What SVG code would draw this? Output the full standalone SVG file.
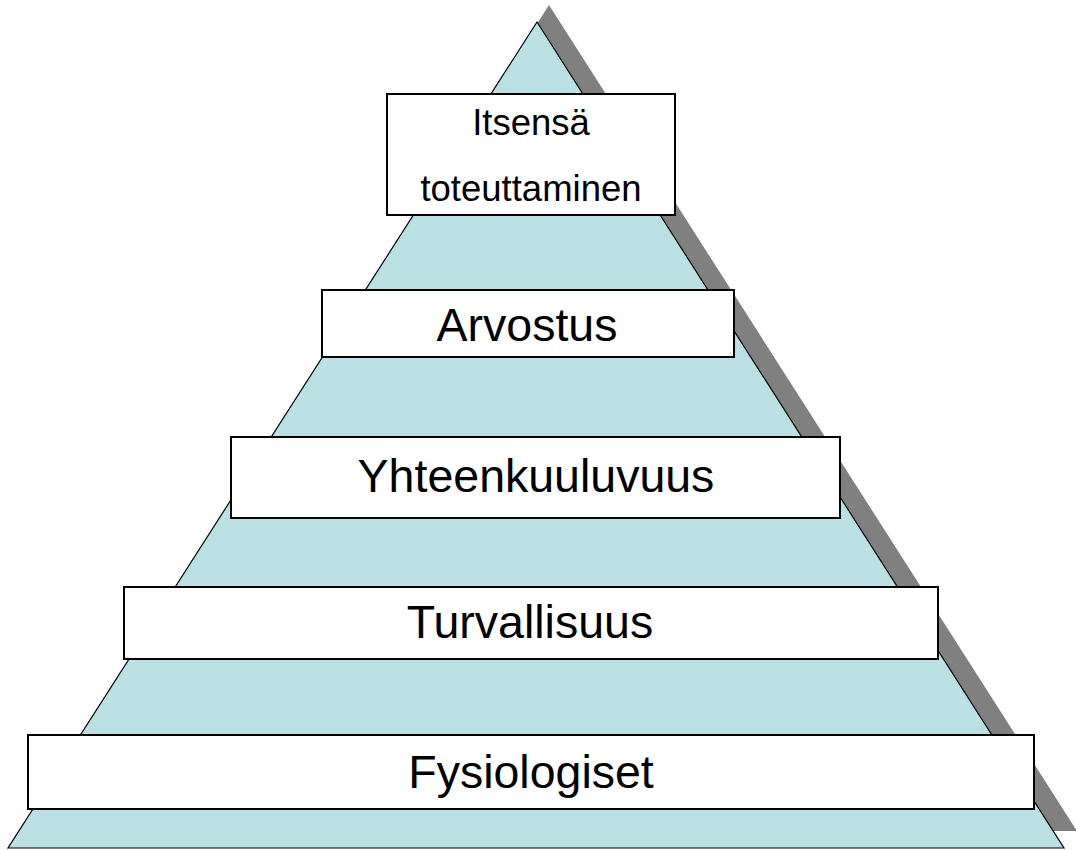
<svg xmlns="http://www.w3.org/2000/svg" width="1076" height="850" viewBox="0 0 1076 850">
<style>
.box{fill:#fff;stroke:#000;stroke-width:2}
.lbl{font-family:"Liberation Sans",Arial,sans-serif;font-size:46.5px;fill:#000;text-anchor:middle}
.sm{font-size:36.5px}
</style>
<rect width="1076" height="850" fill="#fff"/>
<g id="pyramid">
<polygon points="549,5 1077,831 20,831" fill="#808080"/>
<polygon points="537,22 1064,848 8,848" fill="#bbe0e3" stroke="#000" stroke-width="1.2"/>
</g>
<g id="connectors"></g>
<g id="n1"><rect class="box" x="387" y="94" width="288" height="121"/>
<text class="lbl sm" x="531" y="135">Itsensä</text>
<text class="lbl sm" x="531" y="201">toteuttaminen</text></g>
<g id="n2"><rect class="box" x="322" y="290" width="412" height="67"/>
<text class="lbl" x="527" y="341">Arvostus</text></g>
<g id="n3"><rect class="box" x="231" y="437" width="609" height="81"/>
<text class="lbl" x="536" y="492">Yhteenkuuluvuus</text></g>
<g id="n4"><rect class="box" x="124" y="587" width="814" height="72"/>
<text class="lbl" x="530" y="638">Turvallisuus</text></g>
<g id="n5"><rect class="box" x="28" y="735" width="1006" height="74"/>
<text class="lbl" x="531" y="788">Fysiologiset</text></g>
</svg>
